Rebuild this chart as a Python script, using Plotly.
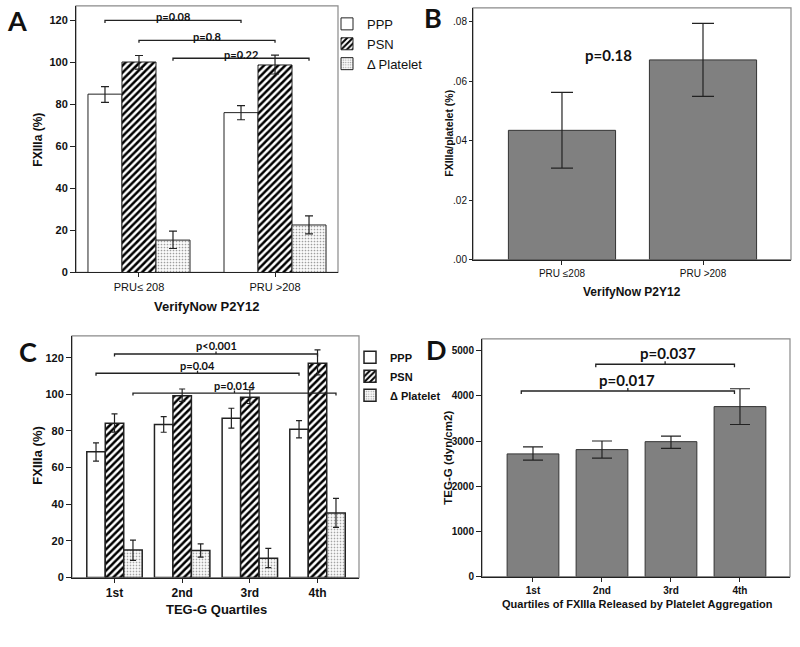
import plotly.graph_objects as go

# ---------------- data ----------------
series_names = ["PPP", "PSN", "Δ Platelet"]

# Panel A : FXIIIa (%) by VerifyNow P2Y12
groups_A = ["PRU≤ 208", "PRU >208"]
A_ppp = [84.9, 76.1]
A_ppp_lo = [81.0, 72.7]
A_ppp_hi = [88.5, 79.4]
A_psn = [100.2, 98.8]
A_psn_lo = [96.8, 94.5]
A_psn_hi = [103.3, 103.5]
A_plt = [15.4, 22.6]
A_plt_lo = [11.4, 18.4]
A_plt_hi = [19.7, 26.9]
A_brackets_series = [0, 1, 2]
A_brackets_y = [120.0, 110.5, 102.0]
A_brackets_text = ["p=0.08", "p=0.8", "p=0.22"]

# Panel B : FXIIIa/platelet (%)
groups_B = ["PRU ≤208", "PRU >208"]
B_val = [0.0435, 0.0672]
B_lo = [0.0308, 0.0549]
B_hi = [0.0563, 0.0795]
B_ticks = [0, 0.02, 0.04, 0.06, 0.08]
B_ticktext = [".00", ".02", ".04", ".06", ".08"]
B_p_text = "p=0.18"
B_p_pos = [0.33, 0.069]

# Panel C : FXIIIa (%) by TEG-G quartiles
groups_C = ["1st", "2nd", "3rd", "4th"]
C_ppp = [68.6, 83.5, 86.9, 80.9]
C_ppp_lo = [63.6, 79.3, 81.6, 76.2]
C_ppp_hi = [73.5, 87.8, 92.4, 85.6]
C_psn = [84.2, 99.2, 98.4, 117.0]
C_psn_lo = [79.4, 96.2, 95.0, 110.6]
C_psn_hi = [89.3, 102.9, 102.5, 124.2]
C_plt = [15.1, 14.8, 10.6, 35.3]
C_plt_lo = [9.4, 11.2, 5.4, 27.4]
C_plt_hi = [20.5, 18.4, 15.9, 43.2]
C_brackets_series = [1, 0, 2]
C_brackets_y = [122.0, 111.5, 100.7]
C_brackets_text = ["p<0.001", "p=0.04", "p=0.014"]

# Panel D : TEG-G by quartiles of FXIIIa released
groups_D = ["1st", "2nd", "3rd", "4th"]
D_val = [2716, 2811, 2987, 3763]
D_lo = [2577, 2621, 2840, 3367]
D_hi = [2870, 3001, 3111, 4158]
D_brackets_x0 = [0.91, -0.17]
D_brackets_x1 = [2.92, 2.92]
D_brackets_y = [4700, 4108]
D_brackets_text = ["p=0.037", "p=0.017"]
D_brackets_textx = [1.96, 1.36]

# ---------------- layout constants ----------------
W, H = 800, 647
SANS = "Liberation Sans, Arial, sans-serif"
CAL = "Lato, Open Sans, sans-serif"


def px_dom(x0, x1, ytop, ybot):
    return [x0 / W, x1 / W], [1 - ybot / H, 1 - ytop / H]


domA = px_dom(76, 338, 6, 275)
domB = px_dom(473, 791, 8, 262)
domC = px_dom(72, 359, 339, 583)
domD = px_dom(482, 790, 342, 582)

rangeA_x, rangeA_y = [-0.463, 1.463], [0, 126.9]
rangeB_x, rangeB_y = [-0.631, 1.624], [0, 0.0847]
rangeC_x, rangeC_y = [-0.628, 3.613], [0, 131.9]
rangeD_x, rangeD_y = [-0.739, 3.725], [0, 5263]

fig = go.Figure()

patterns = [
    dict(shape="", fillmode="replace"),
    dict(shape="/", fgcolor="black", bgcolor="white", size=5, solidity=0.5, fillmode="replace"),
    dict(shape=".", fgcolor="#9a9a9a", bgcolor="#fbfbfb", size=3, solidity=0.25, fillmode="replace"),
]


def add_grouped(xa, ya, groups, vals, los, his, width, lw, legend, showleg, cap):
    n = len(vals)
    for k in range(n):
        xs = [i + (k - (n - 1) / 2) * width for i in range(len(groups))]
        v, lo, hi = vals[k], los[k], his[k]
        fig.add_trace(go.Bar(
            x=xs, y=v, width=width, name=series_names[k],
            xaxis=xa, yaxis=ya, legend=legend, showlegend=showleg,
            marker=dict(color="white", pattern=patterns[k],
                        line=dict(color="#222", width=lw)),
            error_y=dict(type="data", symmetric=False,
                         array=[h - a for h, a in zip(hi, v)],
                         arrayminus=[a - l for a, l in zip(v, lo)],
                         color="#222", thickness=1.2, width=cap),
        ))


# A
add_grouped("x", "y", groups_A, [A_ppp, A_psn, A_plt], [A_ppp_lo, A_psn_lo, A_plt_lo],
            [A_ppp_hi, A_psn_hi, A_plt_hi], 0.25, 1, "legend", True, 4)
# C
add_grouped("x3", "y3", groups_C, [C_ppp, C_psn, C_plt], [C_ppp_lo, C_psn_lo, C_plt_lo],
            [C_ppp_hi, C_psn_hi, C_plt_hi], 0.273, 1.5, "legend2", True, 3)

# B
fig.add_trace(go.Bar(
    x=list(range(len(groups_B))), y=B_val, width=0.76, xaxis="x2", yaxis="y2", showlegend=False,
    marker=dict(color="#808080", line=dict(color="#333", width=1)),
    error_y=dict(type="data", symmetric=False,
                 array=[h - v for h, v in zip(B_hi, B_val)],
                 arrayminus=[v - l for v, l in zip(B_val, B_lo)],
                 color="#222", thickness=1.2, width=11)))
# D
fig.add_trace(go.Bar(
    x=list(range(len(groups_D))), y=D_val, width=0.75, xaxis="x4", yaxis="y4", showlegend=False,
    marker=dict(color="#808080", line=dict(color="#333", width=1)),
    error_y=dict(type="data", symmetric=False,
                 array=[h - v for h, v in zip(D_hi, D_val)],
                 arrayminus=[v - l for v, l in zip(D_val, D_lo)],
                 color="#222", thickness=1.2, width=10)))

shapes, annos = [], []


def bracket(xr, yr, x0, x1, y, t, label, lab_x, shift, size):
    xm = (x0 + x1) / 2
    shapes.append(dict(type="path", xref=xr, yref=yr,
                       path=f"M {x0},{y - t} L {x0},{y} L {x1},{y} L {x1},{y - t} M {xm},{y} L {xm},{y + t}",
                       line=dict(color="#222", width=1.3)))
    annos.append(dict(xref=xr, yref=yr, x=lab_x, y=y, text=f"<b>{label}</b>", showarrow=False,
                      yanchor="middle", yshift=shift, font=dict(family=CAL, size=size, color="#111")))


def unit_px(dom, rng):
    return (dom[1] - dom[0]) * H / (rng[1] - rng[0])


tA = 2.5 / unit_px(domA[1], rangeA_y)
wA = 0.25
for s, y, lab in zip(A_brackets_series, A_brackets_y, A_brackets_text):
    off = (s - 1) * wA
    bracket("x", "y", off, 1 + off, y, tA, lab, 0.5 + off, 4, 11)

tC = 2.5 / unit_px(domC[1], rangeC_y)
wC = 0.273
for s, y, lab in zip(C_brackets_series, C_brackets_y, C_brackets_text):
    off = (s - 1) * wC
    bracket("x3", "y3", off, 3 + off, y, tC, lab, 1.5 + off, 8, 11)

tD = 3 / unit_px(domD[1], rangeD_y)
for x0, x1, y, lab, lx in zip(D_brackets_x0, D_brackets_x1, D_brackets_y, D_brackets_text, D_brackets_textx):
    bracket("x4", "y4", x0, x1, y, tD, lab, lx, 11, 15)

annos.append(dict(xref="x2", yref="y2", x=B_p_pos[0], y=B_p_pos[1], text=f"<b>{B_p_text}</b>",
                  showarrow=False, font=dict(family=CAL, size=15, color="#111")))

# frames
for xr in ["x", "x2", "x3", "x4"]:
    yr = xr.replace("x", "y")
    shapes.append(dict(type="rect", xref=f"{xr} domain", yref=f"{yr} domain", x0=0, x1=1, y0=0, y1=1,
                       line=dict(color="#8a8a8a", width=1.2), layer="below"))


def pap(xp, yp):
    return xp / W, 1 - yp / H


def text_at(xp, yp, txt, size, angle=0, family=SANS):
    x, y = pap(xp, yp)
    annos.append(dict(xref="paper", yref="paper", x=x, y=y, text=txt, showarrow=False,
                      textangle=angle, xanchor="center", yanchor="middle",
                      font=dict(family=family, size=size, color="#111")))


# axis titles
text_at(38, 141, "<b>FXIIIa (%)</b>", 12, -90)
text_at(207, 309, "<b>VerifyNow P2Y12</b>", 13)
text_at(449, 135, "<b>FXIIIa/platelet (%)</b>", 10.5, -90)
text_at(632, 295, "<b>VerifyNow P2Y12</b>", 12)
text_at(38, 460, "<b>FXIIIa (%)</b>", 13, -90)
text_at(216, 615, "<b>TEG-G Quartiles</b>", 13)
text_at(448, 462, "<b>TEG-G (dyn/cm2)</b>", 11.5, -90)
text_at(637, 610, "<b>Quartiles of FXIIIa Released by Platelet Aggregation</b>", 11)
# panel letters
text_at(17, 21, "<b>A</b>", 27, family=CAL)
text_at(433, 18, "<b>B</b>", 27, family=CAL)
text_at(28, 355, "<b>C</b>", 27, family=CAL)
text_at(436, 353, "<b>D</b>", 27, family=CAL)


def xax(dom, rng, groups, size, bold):
    tt = [f"<b>{g}</b>" if bold else g for g in groups]
    return dict(domain=dom, range=rng, tickvals=list(range(len(groups))), ticktext=tt,
                ticks="outside", ticklen=4, tickcolor="#222", showline=True, linecolor="#222",
                linewidth=1, showgrid=False, zeroline=False, fixedrange=True,
                tickfont=dict(family=SANS, size=size, color="#111"))


def yax(dom, rng, tickvals, ticktext, size, anchor, bold=False, ticklen=5):
    tt = [f"<b>{t}</b>" if bold else t for t in ticktext]
    return dict(domain=dom, range=rng, tickvals=tickvals, ticktext=tt, anchor=anchor,
                ticks="outside", ticklen=ticklen, tickcolor="#222", showline=True, linecolor="#222",
                linewidth=1, showgrid=False, zeroline=False, fixedrange=True,
                tickfont=dict(family=SANS, size=size, color="#111"))


yA_ticks = [0, 20, 40, 60, 80, 100, 120]
yD_ticks = [0, 1000, 2000, 3000, 4000, 5000]

fig.update_layout(
    width=W, height=H, margin=dict(l=0, r=0, t=0, b=0),
    paper_bgcolor="white", plot_bgcolor="white", barmode="overlay",
    xaxis=dict(xax(domA[0], rangeA_x, groups_A, 11, False), anchor="y"),
    yaxis=yax(domA[1], rangeA_y, yA_ticks, [str(v) for v in yA_ticks], 11, "x", True),
    xaxis2=dict(xax(domB[0], rangeB_x, groups_B, 10, False), anchor="y2"),
    yaxis2=yax(domB[1], rangeB_y, B_ticks, B_ticktext, 10, "x2", ticklen=3),
    xaxis3=dict(xax(domC[0], rangeC_x, groups_C, 12, True), anchor="y3"),
    yaxis3=yax(domC[1], rangeC_y, yA_ticks, [str(v) for v in yA_ticks], 11, "x3", True),
    xaxis4=dict(xax(domD[0], rangeD_x, groups_D, 10, True), anchor="y4"),
    yaxis4=yax(domD[1], rangeD_y, yD_ticks, [str(v) for v in yD_ticks], 10, "x4", True),
    legend=dict(x=327 / W, y=1 - 9 / H, xanchor="left", yanchor="top", bgcolor="rgba(0,0,0,0)",
                font=dict(family=SANS, size=13, color="#111"), itemwidth=30, tracegroupgap=0),
    legend2=dict(x=350 / W, y=1 - 346 / H, xanchor="left", yanchor="top", bgcolor="rgba(0,0,0,0)",
                 font=dict(family=SANS, size=11, color="#111", weight="bold"), itemwidth=30,
                 tracegroupgap=0),
    shapes=shapes, annotations=annos,
)

fig.write_html("out.html", config={"displayModeBar": False},
               post_script="document.body.style.margin='0px';")
